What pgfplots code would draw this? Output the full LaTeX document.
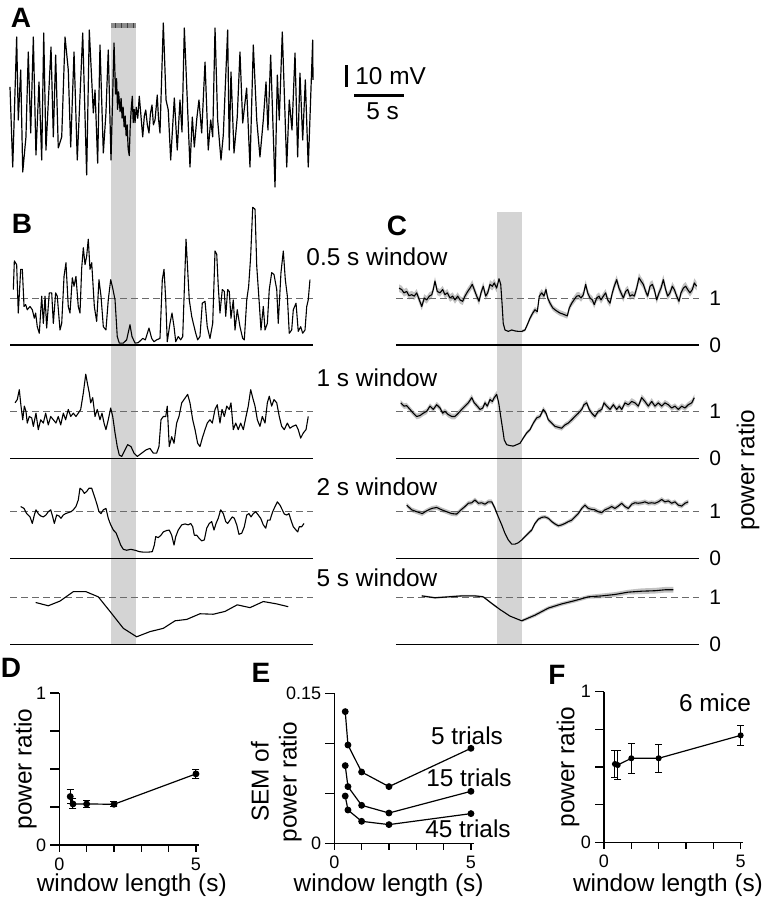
\documentclass[border=0pt]{standalone}
\usepackage{fontspec}
\setmainfont{Liberation Sans}
\usepackage{pgfplots}
\pgfplotsset{compat=1.18}
\usepackage{pgfplotstable}
\usepgfplotslibrary{fillbetween}
\usetikzlibrary{patterns}

\definecolor{shd}{gray}{0.83}
\definecolor{band}{gray}{0.76}
\definecolor{dsh}{gray}{0.42}

\newcommand\lab{\fontsize{12.2}{14}\selectfont}
\newcommand\tk{\fontsize{9}{10}\selectfont}
\newcommand\rl{\fontsize{10.5}{12}\selectfont}
\newcommand\pl{\fontsize{14}{16}\selectfont\bfseries}

% stimulus shading (drawn first, so it lies behind the traces)
\newcommand\stim[2]{%
  \fill[shd] ({axis cs:#1,0}|-{rel axis cs:0,0}) rectangle ({axis cs:#2,0}|-{rel axis cs:0,1});}
% dashed line at ratio 1, solid line at ratio 0
\newcommand\refl[2]{%
  \draw[dsh, line width=0.5pt, dash pattern=on 3.5pt off 2pt] (axis cs:#1,1) -- (axis cs:#2,1);
  \draw[black, line width=0.65pt] (axis cs:#1,0) -- (axis cs:#2,0);}
% outward tick strokes for the small panels
\newcommand\xticks{\pgfplotsinvokeforeach{0,1,2,3,4,5}{%
  \draw[black, line width=0.6pt] (axis cs:##1,0) -- ++(0pt,-3.3pt);}}
\newcommand\yticks[1]{\pgfplotsinvokeforeach{#1}{%
  \draw[black, line width=0.6pt] (axis cs:0,##1) -- ++(-4.5pt,0pt);}}

\pgfplotsset{
  trace/.style={scale only axis, hide axis, clip=false, width=151.5pt,
    xmin=0, xmax=30, anchor=south west},
  tr/.style={black, line width=0.55pt, line join=round},
  panel/.style={scale only axis, clip=false, anchor=south west,
    axis x line*=bottom, axis y line*=left,
    axis line style={line width=0.6pt},
    xtick style={draw=black, line width=0.6pt},
    ytick style={draw=black, line width=0.6pt},
    tick align=outside, major tick length=3pt, width=69.7pt,
    xmin=0, xmax=5.1, ymin=0, xtick={0,1,2,3,4,5}, xticklabels={0,,,,,5},
    ticklabel style={font=\tk}, label style={font=\lab}},
  dots/.style={black, line width=0.6pt, mark=*, mark size=1.4pt,
    mark options={solid}},
  ebars/.style={error bars/.cd, y dir=both, y explicit, error mark=|,
    error bar style={black, line width=0.5pt},
    error mark options={black, line width=0.5pt, mark size=1.75pt}},
  caps/.style={only marks, mark=-, mark size=1.75pt,
    mark options={black, line width=0.5pt}},
}

% ---------------- data ----------------
\pgfplotstableread{
t v
0 8.2
0.27 -28.2
0.66 30.9
0.82 -6.8
1.06 15.9
1.26 -30.5
1.58 -14.5
1.81 24.1
2.05 -12.7
2.31 30.9
2.57 -22.7
2.87 10.5
3.14 -25
3.34 32.7
3.56 -20.5
4.06 26.4
4.29 -14.5
4.52 22.7
4.78 -19.5
5.12 -14.5
5.45 30.9
5.77 15.9
6.01 -19.1
6.34 24.1
6.66 -25
7.2 32.7
7.59 -31.8
7.85 34.1
8.25 -3.6
8.42 6.8
8.68 -26.4
8.91 27.3
9.24 -21.8
9.5 -3.6
9.73 25
10.0 -25
10.3 28.2
10.45 5
10.55 12
10.65 -2
10.75 6
10.9 -3
11.0 3
11.1 -6
11.2 -1
11.3 -10
11.4 -5
11.5 -14
11.6 -9
11.7 -20
11.81 -23
11.9 -10
12.0 -2
12.11 4
12.2 -8
12.3 -2
12.38 -8
12.5 -1
12.65 -6
12.8 4
12.95 -4
13.14 -14.5
13.3 -5
13.44 -2.3
13.6 -9
13.76 -12.7
13.9 -4
14.06 0
14.2 -9
14.36 -6.8
14.58 4.5
14.7 -6
14.85 -12.7
15.18 37.3
15.45 2.3
15.67 -2.3
15.91 -25
16.27 3.2
16.56 -20.5
16.83 2.3
17.03 -12.3
17.26 35
17.5 8.2
17.82 -28.2
18.05 -5.5
18.25 -19.1
18.5 -6
18.71 2.3
18.98 -12.7
19.31 19.5
19.63 -20.5
19.87 -6.8
20.07 -14.5
20.3 35
20.56 -6.8
20.89 -25
21.12 -13.6
21.55 34.1
21.71 -20.5
21.88 15
22.18 -21.8
22.5 -5.5
22.77 24.1
23.04 -8.2
23.43 7.7
23.76 -28.2
24.09 27.3
24.43 -6.8
24.75 -23.6
25.08 -6.8
25.35 10.5
25.54 -11.4
25.81 22.7
26.24 -37.3
26.47 13.6
26.66 -6.8
26.96 33.2
27.4 -28.2
27.65 2.3
27.92 -11.4
28.22 23.6
28.48 -23.6
28.71 14.5
28.98 -15.9
29.24 11.4
29.53 -28.2
29.97 29.5
30.0 11.4
}\Atr

\pgfplotstableread{
t v
0.33 1.18
0.43 1.79
0.66 1.71
0.82 0.68
1.06 1.61
1.22 1.61
1.39 0.82
1.55 0.86
1.71 0.75
1.98 0.82
2.21 0.75
2.41 0.57
2.54 0.68
2.70 0.39
2.90 0.25
3.14 1.04
3.30 0.46
3.47 1.04
3.63 0.36
3.89 1.11
4.13 1.11
4.29 0.46
4.52 1.11
4.68 1.04
4.95 0.32
5.12 0.46
5.35 1.46
5.54 1.75
5.77 0.82
5.94 0.68
6.17 1.43
6.34 1.25
6.53 1.46
6.76 0.82
6.93 0.68
7.10 1.64
7.26 2.07
7.43 1.71
7.59 1.89
7.75 2.25
7.92 1.61
8.09 1.75
8.35 0.82
8.58 0.50
8.81 1.39
9.01 1.04
9.24 0.39
9.50 0.32
9.73 0.96
9.97 1.39
10.17 1.21
10.40 0.96
10.62 0.18
10.82 0.04
11.22 0.04
11.55 0.11
11.88 0.43
12.08 0.18
12.38 0.04
12.70 0.05
13.14 0.14
13.40 0.11
13.76 0.36
14.03 0.14
14.26 0.07
14.52 0.11
14.85 0.14
15.08 1.39
15.25 1.61
15.42 0.96
15.57 0.07
15.84 0.46
16.04 0.68
16.24 0.39
16.41 0.07
16.66 0.18
16.90 0.11
17.10 0.18
17.26 1.18
17.43 2.25
17.59 1.61
17.75 0.96
17.99 0.61
18.15 0.46
18.39 0.25
18.58 0.11
18.81 0.18
19.04 0.89
19.31 0.93
19.53 0.39
19.80 0.14
20.07 0.46
20.30 2.00
20.47 1.93
20.62 1.25
20.79 0.68
21.02 1.18
21.22 1.14
21.36 0.61
21.55 1.18
21.71 1.14
21.88 0.57
22.11 0.96
22.28 0.32
22.50 0.75
22.77 0.39
23.04 0.14
23.20 0.11
23.44 0.96
23.63 1.25
23.83 1.89
24.03 2.93
24.26 2.89
24.43 1.68
24.68 0.89
24.85 0.32
25.08 0.82
25.25 0.32
25.48 0.46
25.67 1.18
25.91 1.54
26.14 1.50
26.41 1.18
26.56 0.46
26.83 1.54
27.06 2.00
27.26 1.39
27.46 1.04
27.65 0.25
27.89 0.32
28.05 0.75
28.32 0.89
28.54 0.29
28.78 0.39
28.98 0.25
29.21 0.32
29.38 0.82
29.53 0.96
29.70 1.39
}\Bone

\pgfplotstableread{
t v
0.50 1.18
0.72 1.25
0.92 1.46
1.09 1.11
1.26 0.82
1.42 1.11
1.58 1.00
1.71 0.75
1.91 0.89
2.15 0.86
2.31 0.68
2.57 0.96
2.80 0.61
3.04 0.82
3.30 0.75
3.53 0.96
3.79 0.71
4.03 0.89
4.29 0.82
4.55 0.75
4.78 0.89
5.02 0.71
5.28 0.96
5.51 0.82
5.77 1.04
6.01 0.89
6.27 0.96
6.53 0.89
6.76 0.96
7.00 1.04
7.26 1.39
7.50 1.79
7.65 1.61
7.85 1.39
7.99 1.18
8.19 1.29
8.42 0.89
8.64 1.04
8.91 0.82
9.11 0.96
9.31 0.75
9.50 0.61
9.73 0.82
9.97 1.07
10.17 0.89
10.40 0.54
10.62 0.25
10.82 0.07
11.06 0.04
11.29 0.14
11.65 0.29
11.98 0.25
12.28 0.11
12.60 0.04
13.04 0.11
13.47 0.18
13.86 0.21
14.19 0.11
14.52 0.11
14.75 0.25
14.95 0.82
15.18 0.89
15.42 0.89
15.57 1.11
15.77 0.25
16.01 0.46
16.24 0.32
16.50 0.75
16.73 0.89
17.00 1.18
17.23 1.25
17.59 1.36
17.82 1.18
18.09 0.82
18.32 0.61
18.58 0.32
18.81 0.25
19.08 0.46
19.31 0.61
19.53 0.75
19.80 0.82
20.03 0.75
20.30 1.04
20.52 1.14
20.79 0.75
20.99 1.04
21.22 0.89
21.46 1.11
21.71 1.04
21.88 1.18
22.11 0.61
22.35 0.75
22.60 0.61
22.84 0.75
23.10 0.61
23.37 0.89
23.59 1.11
23.83 1.46
24.03 1.29
24.26 1.11
24.49 0.82
24.75 0.68
24.98 0.89
25.25 0.75
25.48 1.18
25.67 1.32
25.91 1.11
26.14 1.25
26.41 1.18
26.66 0.89
26.90 0.68
27.16 0.61
27.46 0.75
27.72 0.64
27.99 0.68
28.32 0.71
28.54 0.61
28.78 0.43
29.04 0.54
29.31 0.61
29.53 0.89
}\Btwo

\pgfplotstableread{
t v
1.06 1.11
1.39 1.07
1.65 0.96
1.98 0.89
2.21 0.75
2.41 0.93
2.57 1.04
2.80 0.96
3.04 0.91
3.30 0.89
3.56 0.93
3.79 1.00
4.03 1.04
4.23 0.89
4.39 0.75
4.62 0.93
4.85 0.91
5.05 0.86
5.28 0.93
5.51 0.96
5.77 0.98
6.04 1.00
6.27 1.04
6.53 1.11
6.76 1.25
6.93 1.50
7.16 1.46
7.36 1.39
7.59 1.43
7.82 1.50
8.09 1.50
8.32 1.35
8.58 1.18
8.81 1.00
9.01 0.96
9.24 1.04
9.50 1.07
9.73 0.86
9.97 0.72
10.23 0.61
10.50 0.55
10.72 0.43
10.96 0.29
11.22 0.20
11.55 0.18
11.95 0.20
12.38 0.18
12.80 0.15
13.20 0.14
13.69 0.14
14.09 0.15
14.29 0.29
14.43 0.47
14.68 0.45
14.95 0.50
15.18 0.57
15.51 0.60
15.77 0.61
16.01 0.50
16.24 0.29
16.41 0.47
16.66 0.61
17.00 0.72
17.33 0.74
17.65 0.72
17.89 0.75
18.09 0.68
18.25 0.50
18.49 0.50
18.74 0.43
18.98 0.38
19.24 0.40
19.48 0.65
19.73 0.75
19.97 0.79
20.20 0.61
20.40 0.75
20.62 0.86
20.86 1.04
21.12 0.96
21.36 0.79
21.55 0.75
21.78 0.82
22.01 0.89
22.21 0.86
22.45 0.72
22.67 0.52
22.94 0.54
23.20 0.68
23.44 0.93
23.66 0.96
23.86 0.89
24.09 0.96
24.33 1.00
24.58 0.93
24.82 0.86
25.08 0.72
25.32 0.65
25.51 0.82
25.74 0.82
26.01 1.00
26.24 1.11
26.47 1.21
26.73 1.14
26.96 1.04
27.16 0.95
27.40 0.93
27.62 0.96
27.82 0.82
28.05 0.68
28.32 0.61
28.49 0.57
28.64 0.68
28.88 0.68
29.11 0.75
}\Bthree

\pgfplotstableread{
t v
2.54 0.89
3.79 0.82
4.95 0.92
6.27 1.12
7.52 1.12
8.74 1.01
9.90 0.70
11.22 0.34
12.54 0.16
13.86 0.27
15.18 0.34
16.34 0.50
17.50 0.53
18.81 0.65
20.13 0.64
21.29 0.70
22.50 0.84
23.76 0.78
25.08 0.91
26.40 0.86
27.55 0.80
}\Bfour

\pgfplotstableread{
t v e
0.20 1.21 0.08
0.47 1.18 0.08
0.69 1.11 0.08
0.96 1.14 0.08
1.19 1.05 0.08
1.46 1.07 0.08
1.71 1.04 0.08
1.95 1.11 0.08
2.21 0.96 0.08
2.45 0.82 0.08
2.70 1.00 0.08
2.94 0.96 0.08
3.20 1.04 0.08
3.44 1.07 0.08
3.59 1.18 0.08
3.76 1.36 0.09
3.99 1.14 0.08
4.26 1.11 0.08
4.52 1.18 0.08
4.75 1.07 0.08
4.98 1.11 0.08
5.25 1.00 0.08
5.51 1.04 0.08
5.74 0.96 0.08
6.01 1.04 0.08
6.24 0.96 0.08
6.50 0.93 0.08
6.73 1.04 0.08
7.00 1.14 0.08
7.23 1.21 0.08
7.45 1.29 0.09
7.65 1.18 0.08
7.89 1.04 0.08
8.12 0.93 0.08
8.32 1.11 0.08
8.54 1.25 0.09
8.78 1.04 0.08
8.98 1.11 0.08
9.21 1.29 0.09
9.44 1.25 0.09
9.63 1.32 0.09
9.87 1.21 0.09
10.10 1.41 0.09
10.27 1.29 0.08
10.40 0.89 0.06
10.52 0.46 0.04
10.69 0.32 0.03
11.02 0.29 0.03
11.36 0.32 0.03
11.68 0.30 0.03
12.01 0.29 0.03
12.35 0.29 0.03
12.67 0.32 0.03
12.90 0.43 0.04
13.17 0.57 0.05
13.44 0.68 0.06
13.66 0.75 0.06
13.89 0.71 0.06
14.09 1.04 0.08
14.33 1.11 0.08
14.55 1.04 0.08
14.75 1.18 0.08
14.92 1.00 0.07
15.15 0.89 0.07
15.42 0.79 0.06
15.64 0.75 0.06
15.91 0.71 0.06
16.14 0.68 0.06
16.41 0.66 0.06
16.63 0.64 0.06
16.86 0.62 0.06
17.06 0.79 0.07
17.30 0.89 0.07
17.52 0.96 0.08
17.79 1.04 0.08
18.02 1.05 0.08
18.22 1.00 0.08
18.45 1.07 0.08
18.68 1.29 0.09
18.88 1.11 0.08
19.11 1.00 0.08
19.34 0.96 0.08
19.53 0.86 0.08
19.77 1.00 0.08
20.00 1.04 0.08
20.20 0.96 0.08
20.43 1.04 0.08
20.66 1.11 0.08
20.86 0.96 0.08
21.09 0.89 0.08
21.32 1.11 0.08
21.51 1.25 0.09
21.75 1.39 0.09
21.98 1.21 0.09
22.18 1.11 0.08
22.41 1.00 0.08
22.64 1.14 0.08
22.84 1.18 0.08
23.07 1.04 0.08
23.30 1.07 0.08
23.50 1.04 0.08
23.73 1.21 0.09
23.96 1.43 0.10
24.16 1.36 0.09
24.39 1.29 0.09
24.62 1.14 0.08
24.82 1.04 0.08
25.05 1.25 0.09
25.28 1.29 0.09
25.48 1.18 0.08
25.71 0.96 0.08
25.94 1.11 0.08
26.14 1.21 0.09
26.37 1.39 0.10
26.60 1.18 0.09
26.80 1.04 0.08
27.03 1.11 0.08
27.26 1.25 0.09
27.46 1.18 0.08
27.69 1.04 0.08
27.92 0.93 0.08
28.12 1.11 0.08
28.35 1.21 0.09
28.58 1.25 0.09
28.78 1.18 0.08
29.01 1.11 0.08
29.24 1.18 0.08
29.44 1.32 0.10
29.67 1.25 0.09
}\Cone

\pgfplotstableread{
t v e
0.37 1.18 0.06
0.69 1.11 0.06
0.96 1.12 0.06
1.29 1.04 0.06
1.61 0.96 0.06
1.95 0.89 0.06
2.28 0.91 0.06
2.60 0.96 0.06
2.94 1.00 0.06
3.27 1.11 0.06
3.59 1.04 0.06
3.93 1.14 0.06
4.26 1.07 0.06
4.52 0.96 0.06
4.75 1.00 0.06
5.08 0.93 0.06
5.42 0.89 0.06
5.74 0.89 0.06
6.07 0.96 0.06
6.41 1.04 0.06
6.73 1.11 0.06
7.06 1.18 0.06
7.40 1.29 0.07
7.65 1.18 0.06
7.95 1.11 0.06
8.22 1.04 0.06
8.49 1.07 0.06
8.71 1.18 0.06
8.94 1.11 0.06
9.21 1.25 0.07
9.44 1.21 0.06
9.63 1.29 0.07
9.87 1.36 0.07
10.07 1.18 0.06
10.27 0.89 0.05
10.47 0.61 0.04
10.62 0.39 0.03
10.86 0.29 0.03
11.19 0.27 0.03
11.51 0.26 0.03
11.85 0.29 0.03
12.18 0.32 0.03
12.50 0.43 0.03
12.84 0.54 0.04
13.17 0.61 0.04
13.50 0.75 0.05
13.83 0.86 0.05
14.16 0.89 0.05
14.49 1.04 0.06
14.75 0.96 0.06
14.98 0.82 0.05
15.32 0.75 0.05
15.64 0.68 0.05
15.97 0.66 0.05
16.31 0.64 0.05
16.63 0.71 0.05
16.96 0.75 0.05
17.30 0.82 0.06
17.62 0.89 0.06
17.95 0.96 0.06
18.29 1.04 0.06
18.51 1.14 0.06
18.78 1.18 0.06
19.04 1.04 0.06
19.28 0.96 0.06
19.60 0.89 0.06
19.93 1.00 0.06
20.27 1.04 0.06
20.50 1.18 0.06
20.76 1.11 0.06
21.09 1.04 0.06
21.42 1.14 0.06
21.75 1.04 0.06
22.01 1.11 0.06
22.25 1.04 0.06
22.57 1.18 0.06
22.90 1.14 0.06
23.24 1.21 0.07
23.56 1.18 0.06
23.89 1.11 0.06
24.23 1.29 0.07
24.55 1.21 0.07
24.88 1.11 0.06
25.22 1.21 0.07
25.54 1.11 0.06
25.87 1.18 0.06
26.21 1.11 0.06
26.53 1.18 0.06
26.86 1.14 0.06
27.20 1.07 0.06
27.52 1.11 0.06
27.85 1.04 0.06
28.19 1.11 0.06
28.51 1.07 0.06
28.84 1.14 0.06
29.18 1.18 0.07
29.44 1.29 0.07
}\Ctwo

\pgfplotstableread{
t v e
0.96 1.14 0.05
1.46 1.04 0.05
1.95 1.00 0.05
2.50 0.96 0.05
2.94 1.02 0.05
3.44 1.07 0.05
3.93 1.09 0.05
4.43 1.04 0.05
4.92 1.00 0.05
5.42 0.96 0.05
5.91 0.95 0.05
6.34 1.04 0.05
6.73 1.11 0.05
7.06 1.18 0.05
7.40 1.19 0.05
7.72 1.25 0.05
8.05 1.18 0.05
8.39 1.19 0.05
8.71 1.16 0.05
9.04 1.21 0.05
9.38 1.21 0.05
9.70 1.07 0.05
10.03 0.89 0.04
10.37 0.72 0.04
10.69 0.54 0.03
11.02 0.40 0.03
11.36 0.31 0.03
11.68 0.31 0.03
12.01 0.34 0.03
12.35 0.40 0.03
12.67 0.47 0.03
13.00 0.54 0.04
13.34 0.61 0.04
13.66 0.75 0.04
13.99 0.84 0.04
14.33 0.88 0.04
14.65 0.89 0.04
14.98 0.86 0.04
15.32 0.79 0.04
15.64 0.74 0.04
15.97 0.70 0.04
16.31 0.72 0.04
16.63 0.75 0.04
16.96 0.79 0.04
17.30 0.82 0.05
17.62 0.89 0.05
17.95 0.96 0.05
18.29 1.07 0.05
18.61 1.14 0.05
18.94 1.07 0.05
19.28 1.05 0.05
19.60 1.04 0.05
19.93 1.00 0.05
20.27 0.98 0.05
20.59 1.04 0.05
20.92 1.07 0.05
21.26 1.11 0.05
21.58 1.07 0.05
21.91 1.12 0.05
22.25 1.18 0.05
22.57 1.11 0.05
22.90 1.07 0.05
23.24 1.16 0.05
23.56 1.19 0.05
23.89 1.18 0.05
24.23 1.19 0.05
24.55 1.21 0.05
24.88 1.18 0.05
25.22 1.19 0.05
25.54 1.18 0.05
25.87 1.21 0.05
26.21 1.26 0.05
26.53 1.21 0.05
26.86 1.23 0.05
27.20 1.18 0.05
27.52 1.21 0.05
27.85 1.14 0.05
28.19 1.12 0.05
28.51 1.18 0.05
28.84 1.21 0.05
}\Cthree

\pgfplotstableread{
t v e
2.45 1.03 0.02
3.76 0.99 0.02
5.08 1.01 0.02
6.41 1.03 0.02
7.72 1.03 0.02
8.54 1.01 0.02
9.38 0.87 0.02
10.20 0.74 0.03
11.19 0.60 0.03
12.35 0.50 0.03
13.66 0.62 0.04
14.98 0.77 0.04
16.31 0.86 0.04
17.62 0.93 0.04
18.94 1.01 0.04
20.27 1.03 0.05
21.58 1.06 0.05
22.90 1.11 0.05
24.23 1.13 0.06
25.54 1.14 0.06
26.53 1.16 0.06
27.36 1.16 0.06
}\Cfour

\pgfplotstableread{
x y e
0.4 0.319 0.046
0.5 0.270 0.033
1 0.270 0.020
2 0.268 0.015
5 0.468 0.030
}\Dd

\pgfplotstableread{
x y
0.4 0.1317
0.5 0.0983
1 0.0713
2 0.0567
5 0.0950
}\Efive
\pgfplotstableread{
x y
0.4 0.0777
0.5 0.0567
1 0.0380
2 0.0303
5 0.0520
}\Efifteen
\pgfplotstableread{
x y
0.4 0.0473
0.5 0.0333
1 0.0220
2 0.0187
5 0.0297
}\Efortyfive

\pgfplotstableread{
x y e
0.4 0.520 0.092
0.5 0.513 0.094
1 0.558 0.100
2 0.558 0.094
5 0.710 0.066
}\Fd

\begin{document}
\begin{tikzpicture}

% ---------- A ----------
\begin{axis}[trace, at={(5pt,-95pt)}, height=83.5pt, ymin=-38.64, ymax=37.27]
  \fill[shd] (axis cs:10,-38.64) rectangle (axis cs:12.5,35);
  \fill[black!45] (axis cs:10,35) rectangle (axis cs:12.5,37.27);
  \fill[pattern=vertical lines, pattern color=black!75] (axis cs:10,35) rectangle (axis cs:12.5,37.27);
  \addplot[tr, line width=0.6pt] table[x=t, y=v] {\Atr};
  % scale bars
  \draw[black, line width=1.7pt] (axis cs:33.34,8.2) -- (axis cs:33.34,18.2);
  \node[anchor=west, inner sep=0, font=\lab] at (axis cs:34.16,13.2) {10 mV};
  \draw[black, line width=1.9pt] (axis cs:34.06,4.3) -- (axis cs:38.97,4.3);
  \node[inner sep=0, font=\lab] at (axis cs:36.9,-2.7) {5 s};
\end{axis}

% ---------- B ----------
\begin{axis}[trace, at={(5pt,-200pt)}, height=105pt, ymin=-1.1702, ymax=3.2979]
  \stim{10}{12.5}
  \refl{0}{30}
  \addplot[tr] table[x=t, y=v] {\Bone};
\end{axis}
\begin{axis}[trace, at={(5pt,-252.5pt)}, height=52.5pt, ymin=-0.9936, ymax=1.2404]
  \stim{10}{12.5}
  \refl{0}{30}
  \addplot[tr] table[x=t, y=v] {\Btwo};
\end{axis}
\begin{axis}[trace, at={(5pt,-295pt)}, height=42.5pt, ymin=-0.6660, ymax=1.1426]
  \stim{10}{12.5}
  \refl{0}{30}
  \addplot[tr] table[x=t, y=v] {\Bthree};
\end{axis}
\begin{axis}[trace, at={(5pt,-322.15pt)}, height=27.15pt, ymin=0, ymax=1.1553]
  \stim{10}{12.5}
  \refl{0}{30}
  \addplot[tr] table[x=t, y=v] {\Bfour};
\end{axis}

% ---------- C ----------
\begin{axis}[trace, at={(198.5pt,-200pt)}, height=94pt, ymin=-1.1702, ymax=2.8298]
  \stim{9.9}{12.4}
  \refl{-0.1}{29.9}
  \addplot[draw=none, name path=u1] table[x=t, y expr=\thisrow{v}+\thisrow{e}] {\Cone};
  \addplot[draw=none, name path=l1] table[x=t, y expr=\thisrow{v}-\thisrow{e}] {\Cone};
  \addplot[band] fill between[of=u1 and l1];
  \addplot[tr] table[x=t, y=v] {\Cone};
  \node[anchor=west, inner sep=0, font=\rl] at (axis cs:29.9,1) [xshift=5pt] {1};
  \node[anchor=west, inner sep=0, font=\rl] at (axis cs:29.9,0) [xshift=5pt] {0};
\end{axis}
\begin{axis}[trace, at={(198.5pt,-252.5pt)}, height=52.5pt, ymin=-0.9936, ymax=1.2404]
  \stim{9.9}{12.4}
  \refl{-0.1}{29.9}
  \addplot[draw=none, name path=u2] table[x=t, y expr=\thisrow{v}+\thisrow{e}] {\Ctwo};
  \addplot[draw=none, name path=l2] table[x=t, y expr=\thisrow{v}-\thisrow{e}] {\Ctwo};
  \addplot[band] fill between[of=u2 and l2];
  \addplot[tr] table[x=t, y=v] {\Ctwo};
  \node[anchor=west, inner sep=0, font=\rl] at (axis cs:29.9,1) [xshift=5pt] {1};
  \node[anchor=west, inner sep=0, font=\rl] at (axis cs:29.9,0) [xshift=5pt] {0};
\end{axis}
\begin{axis}[trace, at={(198.5pt,-295pt)}, height=42.5pt, ymin=-0.6660, ymax=1.1426]
  \stim{9.9}{12.4}
  \refl{-0.1}{29.9}
  \addplot[draw=none, name path=u3] table[x=t, y expr=\thisrow{v}+\thisrow{e}] {\Cthree};
  \addplot[draw=none, name path=l3] table[x=t, y expr=\thisrow{v}-\thisrow{e}] {\Cthree};
  \addplot[band] fill between[of=u3 and l3];
  \addplot[tr] table[x=t, y=v] {\Cthree};
  \node[anchor=west, inner sep=0, font=\rl] at (axis cs:29.9,1) [xshift=5pt] {1};
  \node[anchor=west, inner sep=0, font=\rl] at (axis cs:29.9,0) [xshift=5pt] {0};
\end{axis}
\begin{axis}[trace, at={(198.5pt,-322.15pt)}, height=27.15pt, ymin=0, ymax=1.1553]
  \stim{9.9}{12.4}
  \refl{-0.1}{29.9}
  \addplot[draw=none, name path=u4] table[x=t, y expr=\thisrow{v}+\thisrow{e}] {\Cfour};
  \addplot[draw=none, name path=l4] table[x=t, y expr=\thisrow{v}-\thisrow{e}] {\Cfour};
  \addplot[band] fill between[of=u4 and l4];
  \addplot[tr] table[x=t, y=v] {\Cfour};
  \node[anchor=west, inner sep=0, font=\rl] at (axis cs:29.9,1) [xshift=5pt] {1};
  \node[anchor=west, inner sep=0, font=\rl] at (axis cs:29.9,0) [xshift=5pt] {0};
\end{axis}

% ---------- D ----------
\begin{axis}[panel, at={(29.65pt,-422.5pt)}, height=76pt, ymax=1,
  ytick={0,0.25,0.5,0.75,1}, yticklabels={0,,,,1},
  xlabel={window length (s)}, ylabel={power ratio},
  xlabel style={at={(axis description cs:0.52,-0.263)}, anchor=center},
  ylabel style={at={(axis description cs:-0.244,0.5)}, anchor=center}]
  \xticks
  \yticks{0,0.25,0.5,0.75,1}
  \addplot[dots, ebars] table[x=x, y=y, y error=e] {\Dd};
  \addplot[caps] table[x=x, y expr=\thisrow{y}+\thisrow{e}] {\Dd};
  \addplot[caps] table[x=x, y expr=\thisrow{y}-\thisrow{e}] {\Dd};
\end{axis}

% ---------- E ----------
\begin{axis}[panel, at={(167.15pt,-421.65pt)}, height=75pt, ymax=0.15,
  ytick={0,0.05,0.1,0.15}, yticklabels={0,,,0.15},
  xlabel={window length (s)}, ylabel={SEM of\\power ratio},
  xlabel style={at={(axis description cs:0.39,-0.278)}, anchor=center},
  ylabel style={at={(axis description cs:-0.416,0.41)}, anchor=center, align=center}]
  \xticks
  \yticks{0,0.05,0.1,0.15}
  \addplot[dots] table[x=x, y=y] {\Efive};
  \addplot[dots] table[x=x, y=y] {\Efifteen};
  \addplot[dots] table[x=x, y=y] {\Efortyfive};
\end{axis}

% ---------- F ----------
\begin{axis}[panel, at={(302pt,-421.15pt)}, height=75.3pt, ymax=1,
  ytick={0,0.25,0.5,0.75,1}, yticklabels={0,,,,1},
  xlabel={window length (s)}, ylabel={power ratio},
  xlabel style={at={(axis description cs:0.459,-0.284)}, anchor=center},
  ylabel style={at={(axis description cs:-0.258,0.5)}, anchor=center}]
  \xticks
  \yticks{0,0.25,0.5,0.75,1}
  \addplot[dots, mark size=1.2pt, ebars] table[x=x, y=y, y error=e] {\Fd};
  \addplot[caps, mark size=1.4pt] table[x=x, y expr=\thisrow{y}+\thisrow{e}] {\Fd};
  \addplot[caps, mark size=1.4pt] table[x=x, y expr=\thisrow{y}-\thisrow{e}] {\Fd};
\end{axis}

% texts placed in reference pixel coordinates
\begin{scope}[x=0.5pt, y=-0.5pt]
\node[font=\lab] at (377,257) {0.5 s window};
\node[font=\lab] at (377,378) {1 s window};
\node[font=\lab] at (377,487) {2 s window};
\node[font=\lab] at (377,578) {5 s window};
\node[font=\lab, rotate=90] at (748,470) {power ratio};
\node[font=\lab] at (467,736) {5 trials};
\node[font=\lab] at (469,778) {15 trials};
\node[font=\lab] at (468,829) {45 trials};
\node[font=\lab] at (715,703) {6 mice};
\node[font=\pl] at (21,18) {A};
\node[font=\pl] at (22,224) {B};
\node[font=\pl] at (397,226) {C};
\node[font=\pl] at (11,668) {D};
\node[font=\pl] at (261,673) {E};
\node[font=\pl] at (557,675) {F};
\end{scope}

\pgfresetboundingbox
\path[use as bounding box] (0pt,0pt) rectangle (383.5pt,-453.5pt);
\end{tikzpicture}
\end{document}
